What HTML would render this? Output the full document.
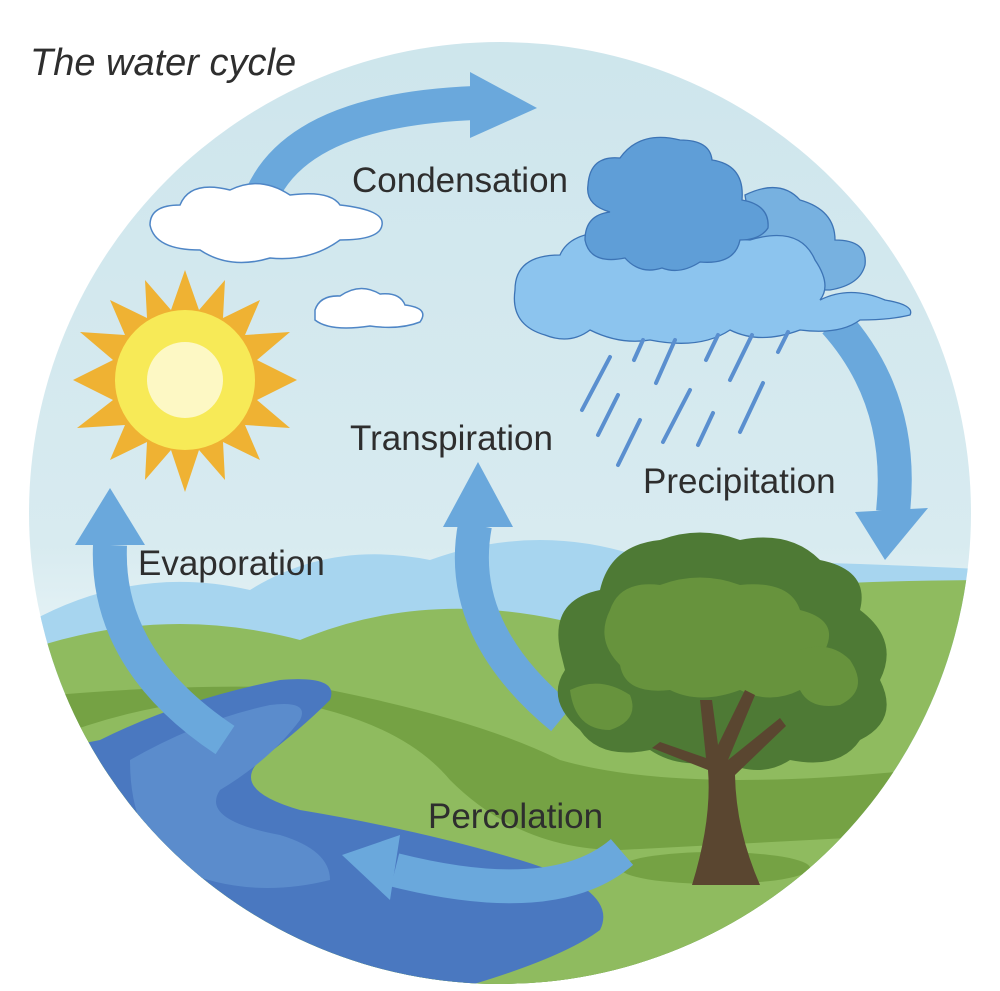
<!DOCTYPE html>
<html><head><meta charset="utf-8"><style>
html,body{margin:0;padding:0;background:#fff;}
svg{display:block;}
text{font-family:"Liberation Sans",sans-serif;fill:#2e2e2e;}
</style></head><body>
<svg width="1000" height="991" viewBox="0 0 1000 991" xmlns="http://www.w3.org/2000/svg">
<defs>
<clipPath id="c"><circle cx="500" cy="513" r="471"/></clipPath>
<linearGradient id="sky" x1="0" y1="0" x2="0" y2="1">
<stop offset="0" stop-color="#cde5ec"/><stop offset="0.55" stop-color="#d8ebf0"/><stop offset="0.65" stop-color="#e6f3f6"/></linearGradient>
</defs>
<g clip-path="url(#c)">
<rect x="0" y="0" width="1000" height="991" fill="url(#sky)"/>
<path d="M0 640 Q120 560 250 590 Q330 540 430 560 Q540 520 650 560 Q800 560 1000 570 L1000 991 L0 991Z" fill="#a7d5ef"/>
<path d="M0 660 Q150 600 300 640 Q420 590 560 620 Q700 580 1000 580 L1000 991 L0 991Z" fill="#8fbb5f"/>
<path d="M0 700 Q200 680 330 690 Q480 720 560 760 Q700 800 1000 760 L1000 991 L0 991Z" fill="#75a244"/>
<path d="M0 760 Q150 690 280 700 Q400 720 450 780 Q520 850 620 850 L1000 830 L1000 991 L0 991Z" fill="#8fbb5f"/>
<path d="M100 740 Q180 700 280 680 Q340 675 330 700 Q300 730 260 760 Q230 790 300 810 Q420 830 520 860 Q620 890 600 930 Q560 960 450 991 L0 991 L0 760Z" fill="#4a78c0"/>
<path d="M130 760 Q200 720 270 705 Q310 700 300 720 Q270 760 220 790 Q200 820 280 835 Q330 850 330 880 Q250 900 180 870 Q130 840 130 760Z" fill="#5b8ccc"/>
<ellipse cx="715" cy="868" rx="95" ry="16" fill="#75a244"/>
</g>
<text x="30" y="75" font-size="38" font-style="italic">The water cycle</text>
<g fill="none" stroke="#6aa8dc" stroke-width="34">
<path d="M262 195 Q300 110 475 103"/>
<path d="M835 322 Q905 400 893 512"/>
<path d="M225 740 Q105 660 110 545"/>
<path d="M562 718 Q455 630 475 525"/>
<path d="M622 852 Q555 910 395 870"/>
</g>
<g fill="#6aa8dc">
<polygon points="470,72 537,108 470,138"/>
<polygon points="855,512 928,508 885,560"/>
<polygon points="75,545 145,545 110,488"/>
<polygon points="443,527 513,527 478,462"/>
<polygon points="400,835 342,855 390,900"/>
</g>
<g fill="#fff" stroke="#4f86c6" stroke-width="1.5">
<path d="M150 225 Q150 205 180 205 Q190 180 230 190 Q260 175 290 195 Q330 190 340 205 Q385 210 382 225 Q380 240 340 240 Q310 262 270 258 Q230 270 200 250 Q155 250 150 225Z"/>
<path d="M315 310 Q320 295 340 296 Q360 282 380 294 Q400 292 405 305 Q430 308 420 322 Q400 330 370 326 Q330 332 315 320Z"/>
</g>
<g stroke="#3d74b5" stroke-width="1.3">
<path d="M745 195 Q780 178 800 200 Q835 210 835 240 Q868 240 865 265 Q860 285 830 290 L760 290Z" fill="#77b1e0"/>
<path d="M515 290 Q515 255 560 255 Q570 232 610 232 L750 240 Q800 225 815 260 Q832 285 820 300 Q850 285 885 300 Q915 305 910 315 Q890 320 860 320 Q840 335 800 330 Q760 345 730 330 Q700 350 650 340 Q620 345 590 330 Q570 345 545 335 Q510 325 515 290Z" fill="#8cc4ee"/>
<path d="M588 185 Q590 155 620 158 Q640 130 680 140 Q710 140 712 160 Q745 165 742 200 Q770 205 768 228 Q760 240 740 240 Q735 265 700 262 Q680 275 662 268 Q640 275 625 258 Q590 265 585 240 Q585 215 610 212 Q585 205 588 185Z" fill="#5f9ed7"/>
</g>
<g stroke="#5a8fcf" stroke-width="4" stroke-linecap="round">
<line x1="643" y1="340" x2="634" y2="360"/><line x1="675" y1="340" x2="656" y2="383"/><line x1="718" y1="335" x2="706" y2="360"/><line x1="752" y1="335" x2="730" y2="380"/><line x1="788" y1="332" x2="778" y2="352"/>
<line x1="610" y1="357" x2="582" y2="410"/><line x1="618" y1="395" x2="598" y2="435"/><line x1="640" y1="420" x2="618" y2="465"/><line x1="690" y1="390" x2="663" y2="442"/><line x1="713" y1="413" x2="698" y2="445"/><line x1="763" y1="383" x2="740" y2="432"/>
</g>
<g transform="translate(185,380)">
<polygon fill="#efb233" points="0,-110 14,-70 40,-100 38,-62 75,-80 60,-45 105,-48 72,-20 112,0 72,20 105,48 60,45 75,80 38,62 40,100 14,70 0,112 -14,70 -40,100 -38,62 -75,80 -60,45 -108,48 -72,20 -112,0 -72,-20 -105,-48 -60,-45 -75,-80 -38,-62 -40,-100 -14,-70"/>
<circle r="70" fill="#f7ea57"/>
<circle r="38" fill="#fdf8c4"/>
</g>
<path d="M560 650 Q550 600 600 590 Q610 545 660 540 Q700 525 740 540 Q790 530 820 560 Q870 570 860 610 Q900 640 880 680 Q900 720 860 740 Q840 770 790 760 Q760 780 720 760 Q680 770 650 750 Q600 760 580 730 Q545 700 565 670Z" fill="#4e7a35"/>
<path d="M610 610 Q620 580 660 585 Q700 570 740 585 Q790 580 800 610 Q840 620 825 650 Q840 690 800 690 Q770 705 740 690 Q700 705 670 690 Q625 695 620 665 Q595 640 610 610Z" fill="#67933d"/>
<path d="M800 650 Q830 640 850 660 Q870 690 840 705 Q810 710 800 690Z" fill="#67933d"/>
<path d="M570 690 Q600 675 630 695 Q640 720 610 730 Q575 730 570 690Z" fill="#67933d"/>
<path d="M692 885 Q712 820 708 770 L652 748 L660 742 L706 758 L700 700 L712 700 L718 745 L745 690 L755 695 L728 760 L780 718 L786 726 L735 775 Q736 830 760 885Z" fill="#5a4630"/>
<text x="352" y="192" font-size="35">Condensation</text>
<text x="350" y="450" font-size="35">Transpiration</text>
<text x="643" y="493" font-size="35">Precipitation</text>
<text x="138" y="575" font-size="35">Evaporation</text>
<text x="428" y="828" font-size="35">Percolation</text>
</svg>
</body></html>
